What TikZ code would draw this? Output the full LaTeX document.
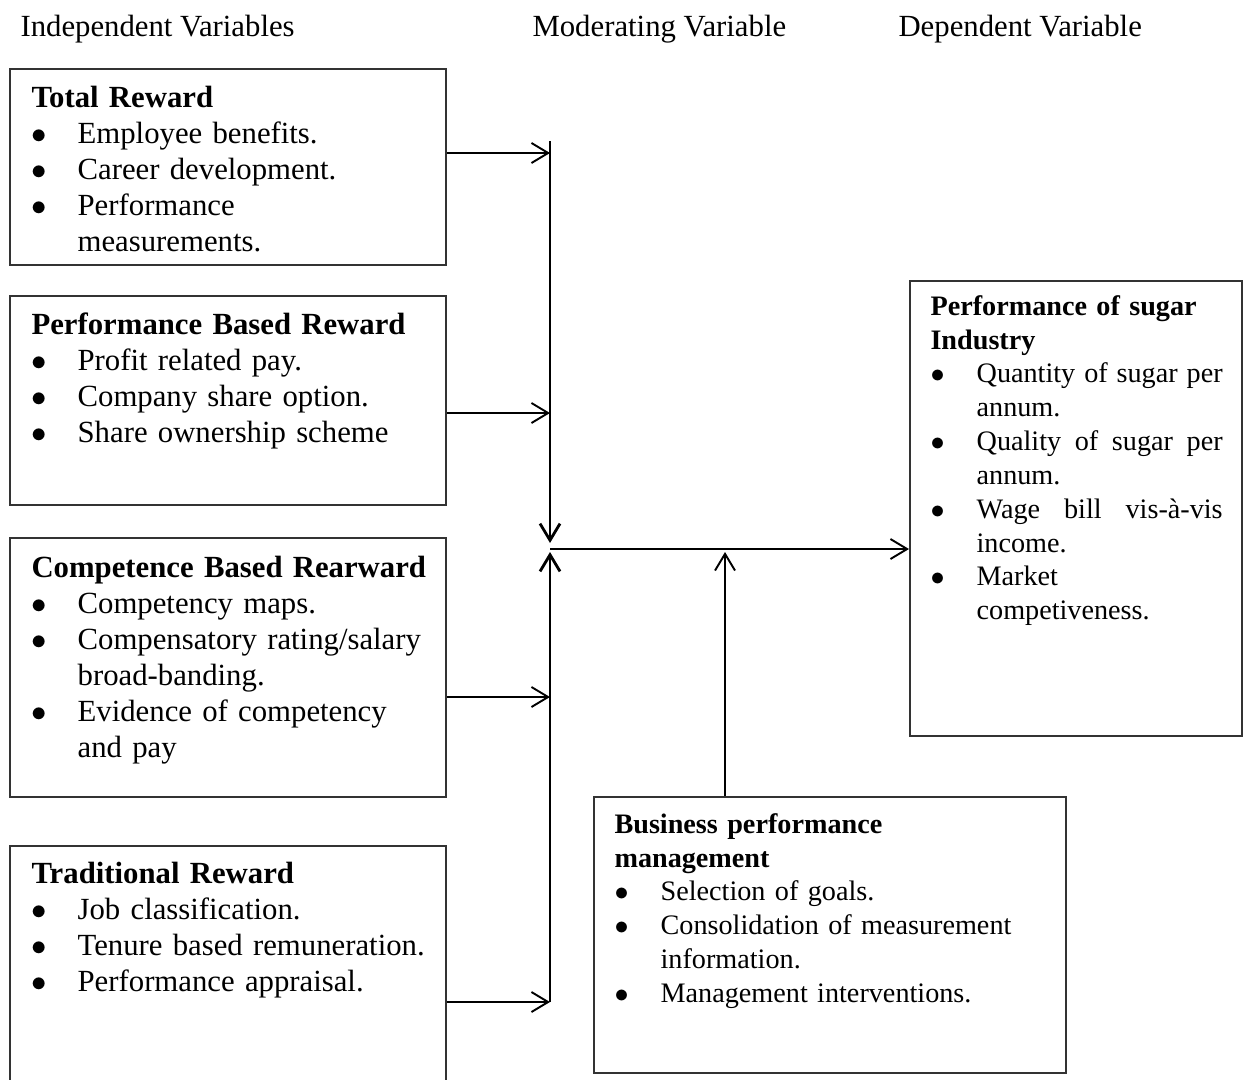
\documentclass[tikz,border=0pt]{standalone}
\usepackage{fontspec}
\setmainfont{Liberation Serif}
\usepackage{tikz}
\usetikzlibrary{arrows.meta,fit}
\definecolor{boxline}{HTML}{333333}
\newlength{\bindent}
\setlength{\bindent}{18pt}
\newlength{\rwid}
\setlength{\rwid}{96pt}
\newcommand{\bhead}[1]{\noindent\strut\textbf{#1}}
\newcommand{\bitem}[1]{\par\noindent\makebox[\bindent][l]{$\bullet$}#1}
\newcommand{\bcont}[1]{\par\noindent\hspace*{\bindent}#1}
\newcommand{\jline}[1]{\hbox to\rwid{#1}}

\begin{document}
\begin{tikzpicture}[x=0.3902pt,y=-0.3902pt,
  box/.style={draw=boxline,line width=0.8pt,inner sep=0pt,fit={#1}},
  ltxt/.style={anchor=north west,inner sep=0pt,text width=165pt,align=left,font=\fontsize{12}{14}\selectfont},
  rtxt/.style={anchor=north west,inner sep=0pt,text width=#1,align=left,font=\fontsize{11}{13.2}\selectfont},
  hdr/.style={anchor=base west,inner sep=0pt,font=\fontsize{12}{14}\selectfont},
  arr/.style={-{Straight Barb[length=6.5pt,width=7.8pt]},line width=0.75pt},
  modline/.style={-{Straight Barb[length=6.5pt,width=7.8pt]},line width=1.1pt}]
  \useasboundingbox (0,0) rectangle (1244,1079);

  \node[hdr] (indep) at (20,36) {Independent Variables};
  \node[hdr] (moder) at (532,36) {Moderating Variable};
  \node[hdr] (depen) at (898,36) {Dependent Variable};

  \node[box={(10,69) (446,265)}] (total) {};
  \node[box={(10,296) (446,505)}] (perf) {};
  \node[box={(10,538) (446,797)}] (comp) {};
  \node[box={(10,846) (446,1095)}] (trad) {};
  \node[box={(910,281) (1242,736)}] (sugar) {};
  \node[box={(594,797) (1066,1073)}] (bpm) {};

  \node[ltxt] (totaltxt) at (31,82) {\bhead{Total Reward}
    \bitem{Employee benefits.}
    \bitem{Career development.}
    \bitem{Performance}
    \bcont{measurements.}};
  \node[ltxt] (perftxt) at (31,309) {\bhead{Performance Based Reward}
    \bitem{Profit related pay.}
    \bitem{Company share option.}
    \bitem{Share ownership scheme}};
  \node[ltxt] (comptxt) at (31,552) {\bhead{Competence Based Rearward}
    \bitem{Competency maps.}
    \bitem{Compensatory rating/salary}
    \bcont{broad-banding.}
    \bitem{Evidence of competency}
    \bcont{and pay}};
  \node[ltxt] (tradtxt) at (31,858) {\bhead{Traditional Reward}
    \bitem{Job classification.}
    \bitem{Tenure based remuneration.}
    \bitem{Performance appraisal.}};
  \node[rtxt=120pt] (sugartxt) at (930,291) {\bhead{Performance of sugar}
    \par\noindent\textbf{Industry}
    \bitem{\jline{Quantity\hfill of\hfill sugar\hfill per}}
    \bcont{annum.}
    \bitem{\jline{Quality\hfill of\hfill sugar\hfill per}}
    \bcont{annum.}
    \bitem{\jline{Wage\hfill bill\hfill vis-à-vis}}
    \bcont{income.}
    \bitem{Market}
    \bcont{competiveness.}};
  \node[rtxt=170pt] (bpmtxt) at (614,809) {\bhead{Business performance}
    \par\noindent\textbf{management}
    \bitem{Selection of goals.}
    \bitem{Consolidation of measurement}
    \bcont{information.}
    \bitem{Management interventions.}};

  \coordinate (mtop) at (550,141);
  \coordinate (mdown) at (550,543);
  \coordinate (mup) at (550,552);
  \coordinate (mjoin) at (550,549);
  \coordinate (m1) at (550,153);
  \coordinate (m2) at (550,413);
  \coordinate (m3) at (550,697);
  \coordinate (m4) at (550,1002);
  \coordinate (bup) at (725,552);

  \draw[modline] (mtop) -- (mdown);
  \draw[modline] (m4) -- (mup);
  \draw[arr] (total.east |- m1) -- (m1);
  \draw[arr] (perf.east |- m2) -- (m2);
  \draw[arr] (comp.east |- m3) -- (m3);
  \draw[arr] (trad.east |- m4) -- (m4);
  \draw[arr] (mjoin) -- (sugar.west |- mjoin);
  \draw[arr] (bpm.north -| bup) -- (bup);

\end{tikzpicture}
\end{document}
